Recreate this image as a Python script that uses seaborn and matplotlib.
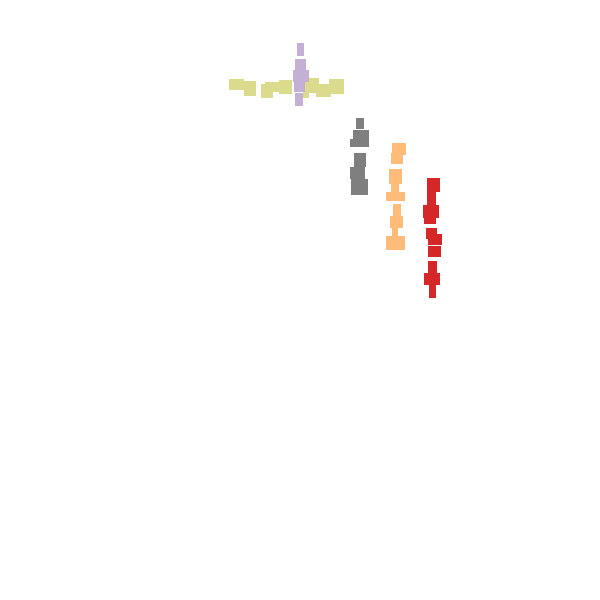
import matplotlib
matplotlib.use("Agg")
import matplotlib.pyplot as plt
import seaborn as sns
import numpy as np

sns.set_theme(style="white")

# --- data (centre x, centre y, width, height) per group ---
yellow_x = [236.5, 250, 267, 272.5, 285.5, 306, 312, 323.5, 336.5]
yellow_y = [84.5, 88.5, 91, 87, 87, 93, 85.5, 90.5, 86.5]
yellow_w = [15, 12, 12, 15, 13, 6, 14, 15, 15]
yellow_h = [11, 15, 14, 10, 14, 10, 15, 13, 15]

purple_x = [300.5, 300.5, 301, 299.5, 299]
purple_y = [49.5, 64.5, 76, 86, 99.5]
purple_w = [7, 11, 16, 11, 8]
purple_h = [13, 11, 12, 12, 13]

gray_x = [360, 361, 355, 360, 357.5, 359.5]
gray_y = [123.5, 138.5, 143, 160, 173, 187]
gray_w = [8, 16, 10, 12, 15, 17]
gray_h = [11, 17, 8, 14, 12, 16]

orange_x = [399, 397, 395.5, 395, 395.5, 397, 396.5, 395, 395.5]
orange_y = [149, 158.5, 176.5, 188.5, 196.5, 210.5, 222, 231.5, 243]
orange_w = [14, 12, 13, 8, 19, 8, 13, 6, 19]
orange_h = [12, 11, 15, 11, 9, 13, 12, 11, 14]

red_x = [433.5, 431.5, 431, 430, 431.5, 435, 434.5, 432.5, 432, 432.5]
red_y = [185, 197, 211.5, 219, 233.5, 239.5, 251.5, 267.5, 279, 291.5]
red_w = [13, 9, 16, 12, 11, 14, 13, 9, 16, 7]
red_h = [14, 18, 13, 10, 11, 11, 11, 13, 12, 13]

pal = sns.color_palette("tab20")
groups = [
    (yellow_x, yellow_y, yellow_w, yellow_h, pal[17]),
    (purple_x, purple_y, purple_w, purple_h, pal[9]),
    (gray_x, gray_y, gray_w, gray_h, pal[14]),
    (orange_x, orange_y, orange_w, orange_h, pal[3]),
    (red_x, red_y, red_w, red_h, pal[6]),
]

fig = plt.figure(figsize=(6, 6), dpi=100)
ax = fig.add_axes([0, 0, 1, 1])
for xs, ys, ws, hs, c in groups:
    xs, ys, ws, hs = map(np.asarray, (xs, ys, ws, hs))
    ax.bar(xs, hs, width=ws, bottom=ys - hs / 2, color=c, linewidth=0, align="center")

ax.set_xlim(0, 600)
ax.set_ylim(600, 0)
ax.set_axis_off()
fig.savefig("out.png", dpi=100, facecolor="white")
